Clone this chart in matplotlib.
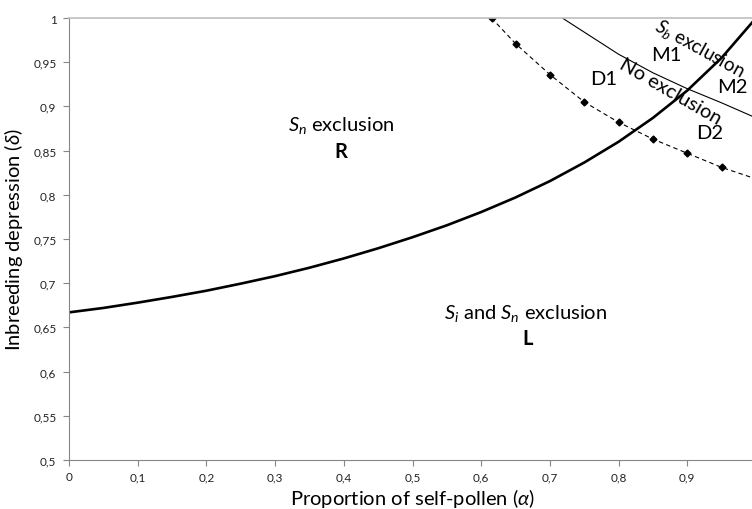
import matplotlib
matplotlib.use("Agg")
import matplotlib.pyplot as plt
from matplotlib.ticker import FuncFormatter, FixedLocator, MultipleLocator

plt.rcParams["font.family"] = ["Lato", "DejaVu Sans"]
plt.rcParams["mathtext.fontset"] = "custom"
plt.rcParams["mathtext.rm"] = "Lato"
plt.rcParams["mathtext.it"] = "Lato:italic"
plt.rcParams["mathtext.bf"] = "Lato:bold"

# ----------------------------
# Data
# ----------------------------
# thick boundary curve (L / R regions)
alpha_bound = [0.0, 0.05, 0.1, 0.15, 0.2, 0.25, 0.3, 0.35, 0.4, 0.45, 0.5,
               0.55, 0.6, 0.65, 0.7, 0.75, 0.8, 0.85, 0.9, 0.95, 1.0]
delta_bound = [0.667, 0.672, 0.678, 0.6845, 0.6915, 0.6995, 0.708, 0.7175, 0.728, 0.7395, 0.752,
               0.7655, 0.7805, 0.797, 0.8155, 0.8365, 0.860, 0.887, 0.918, 0.955, 1.0]

# thin curve (Sb exclusion / no exclusion)
alpha_thin = [0.718, 0.75, 0.8, 0.85, 0.9, 0.95, 1.0]
delta_thin = [1.0, 0.984, 0.959, 0.938, 0.920, 0.904, 0.887]

# dashed curve with markers
alpha_dash = [0.615, 0.65, 0.7, 0.75, 0.8, 0.85, 0.9, 0.95, 1.0]
delta_dash = [1.0, 0.971, 0.936, 0.905, 0.882, 0.863, 0.847, 0.831, 0.818]

# x ticks shown in the picture (the "1" falls outside it)
x_ticks = [0.0, 0.1, 0.2, 0.3, 0.4, 0.5, 0.6, 0.7, 0.8, 0.9]

# ----------------------------
# Figure
# ----------------------------
fig = plt.figure(figsize=(7.52, 5.10), dpi=100)
ax = fig.add_axes([69 / 752, 49 / 510, 687 / 752, 442 / 510])

ax.plot(alpha_bound, delta_bound, color="black", lw=1.9, solid_joinstyle="round")
ax.plot(alpha_thin, delta_thin, color="black", lw=0.8)
ax.plot(alpha_dash, delta_dash, color="black", lw=0.8, ls=(0, (4, 3)),
        marker="D", markersize=3.5)

ax.set_xlim(0, 1)
ax.set_ylim(0.5, 1)
ax.xaxis.set_major_locator(FixedLocator(x_ticks))
ax.yaxis.set_major_locator(MultipleLocator(0.05))
fmt = FuncFormatter(lambda v, pos: f"{round(v, 2):g}".replace(".", ","))
ax.xaxis.set_major_formatter(fmt)
ax.yaxis.set_major_formatter(fmt)
ax.tick_params(axis="both", labelsize=8.5, color="#868686", length=4, width=0.8,
               labelcolor="#222222")
ax.tick_params(axis="x", pad=4)
ax.tick_params(axis="y", pad=5)

for side in ["left", "bottom"]:
    ax.spines[side].set_color("#868686")
    ax.spines[side].set_linewidth(0.8)
ax.spines["top"].set_color("#bfbfbf")
ax.spines["top"].set_linewidth(1.2)
ax.spines["right"].set_visible(False)

ax.set_xlabel(r"Proportion of self-pollen ($\alpha$)", fontsize=14.5, labelpad=3)
ax.set_ylabel(r"Inbreeding depression ($\delta$)", fontsize=14.5, labelpad=6)

# ----------------------------
# Region labels
# ----------------------------
fs = 14.5
ax.text(0.396, 0.879, r"$S_n$ exclusion", fontsize=fs, ha="center", va="center")
ax.text(0.396, 0.850, "R", fontsize=fs, ha="center", va="center", fontweight="bold")
ax.text(0.664, 0.667, r"$S_i$ and $S_n$ exclusion", fontsize=fs, ha="center", va="center")
ax.text(0.667, 0.638, "L", fontsize=fs, ha="center", va="center", fontweight="bold")

ax.text(0.870, 0.959, "M1", fontsize=fs, ha="center", va="center")
ax.text(0.778, 0.931, "D1", fontsize=fs, ha="center", va="center")
ax.text(0.966, 0.922, "M2", fontsize=fs, ha="center", va="center")
ax.text(0.933, 0.871, "D2", fontsize=fs, ha="center", va="center")

ax.text(0.875, 0.918, "No exclusion", fontsize=fs, rotation=-30,
        rotation_mode="anchor", ha="center", va="center")
ax.text(0.855, 0.993, r"$S_b$ exclusion", fontsize=13.5, rotation=-29,
        rotation_mode="anchor", ha="left", va="center", clip_on=False)

fig.savefig("out.png", dpi=100)
